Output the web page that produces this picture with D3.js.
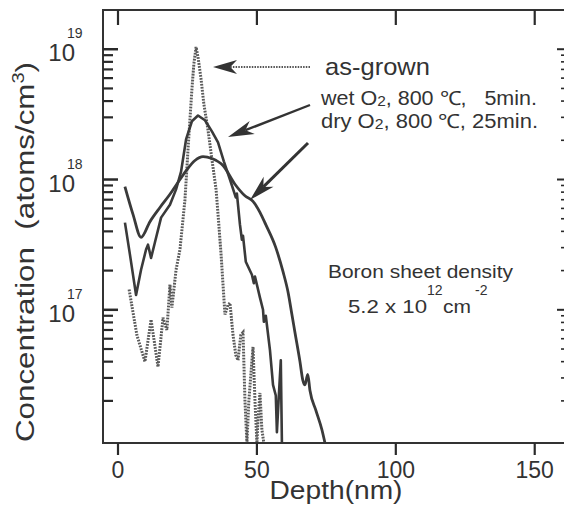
<!DOCTYPE html>
<html><head><meta charset="utf-8">
<script src="https://cdn.jsdelivr.net/npm/d3@7"></script>
<style>
body{margin:0;background:#fff}
svg{display:block}
text{font-family:"Liberation Sans",Arial,Helvetica,sans-serif;fill:#333}
</style>
</head><body>
<svg id="c" width="564" height="509"></svg>
<script>
// ---------- data (depth in nm, concentration in atoms/cm^3) ----------
const asGrownDepth = [4.0, 6.8, 9.7, 11.9, 14.4, 16.2, 17.6, 18.7, 19.4, 20.9, 22.3, 24.1, 25.2, 25.9, 26.6, 27.3, 28.1, 28.8, 29.9, 30.9, 32.4, 33.8, 35.3, 36.3, 37.1, 37.8, 38.5, 39.6, 40.3, 41.4, 42.4, 43.2, 44.2, 45.0, 45.7, 46.4, 47.1, 48.6, 49.3, 50.0, 50.4, 51.1, 51.8, 52.5];
const asGrownConc = [1.43e17, 6.4e16, 4.0e16, 8.4e16, 3.65e16, 8.7e16, 7.0e16, 1.56e17, 1.04e17, 2.03e17, 2.9e17, 7.0e17, 1.7e18, 2.9e18, 4.9e18, 7.7e18, 1.04e19, 8.7e18, 5.9e18, 3.8e18, 2.4e18, 1.43e18, 8.4e17, 4.5e17, 2.65e17, 1.56e17, 9.2e16, 1.09e17, 1.13e17, 6.4e16, 4.5e16, 4.1e16, 6.4e16, 6.7e16, 2.0e16, 9.5e15, 2.0e16, 5.2e16, 2.0e16, 9.5e15, 1.43e16, 2.3e16, 1.2e16, 9.5e15];

const wetDepth = [2.5, 4.3, 6.5, 8.3, 10.1, 10.8, 11.9, 13.3, 15.5, 18.7, 20.9, 22.7, 24.5, 26.6, 28.8, 31.3, 33.8, 36.0, 38.1, 40.3, 42.4, 42.8, 43.9, 44.6, 45.0, 46.0, 48.2, 48.9, 49.3, 51.1, 52.2, 52.5, 53.2, 54.7, 55.8, 56.8, 57.2, 57.9, 58.6, 59.0];
const wetConc = [4.67e17, 2.65e17, 1.3e17, 2.03e17, 2.9e17, 3.16e17, 2.5e17, 3.3e17, 5.1e17, 6.4e17, 8.4e17, 1.15e18, 2.03e18, 2.8e18, 3.1e18, 2.85e18, 2.34e18, 1.93e18, 1.38e18, 1.0e18, 7.3e17, 7.8e17, 4.5e17, 3.45e17, 3.7e17, 2.34e17, 1.86e17, 1.6e17, 1.8e17, 1.24e17, 1.0e17, 8.1e16, 9.0e16, 4.9e16, 2.65e16, 2.2e16, 1.15e16, 2.2e16, 4.1e16, 9.5e15];

const dryDepth = [2.5, 5.4, 8.3, 11.5, 15.1, 18.7, 22.3, 24.8, 27.7, 30.6, 33.8, 37.8, 42.1, 45.7, 48.6, 51.1, 53.2, 56.8, 59.4, 61.2, 62.6, 63.7, 65.5, 66.5, 67.3, 68.3, 69.1, 71.2, 73.4, 74.5];
const dryConc = [8.8e17, 5.4e17, 3.6e17, 4.75e17, 6.1e17, 7.7e17, 1.0e18, 1.19e18, 1.4e18, 1.5e18, 1.45e18, 1.28e18, 9.2e17, 7.5e17, 6.8e17, 5.6e17, 4.5e17, 3.0e17, 1.96e17, 1.37e17, 9.2e16, 6.7e16, 4.0e16, 2.9e16, 2.65e16, 3.2e16, 2.4e16, 1.7e16, 1.2e16, 9.5e15];

const xTickValues = [0, 50, 100, 150];
const yMajorTicks = [1e17, 1e18, 1e19];
const yMajorExponents = ["17", "18", "19"];
const seriesLabels = ["as-grown", "wet O", "dry O"];

// ---------- layout ----------
const plot = {left: 103, right: 565, top: 10, bottom: 443};
const ink = "#333";
const x = d3.scaleLinear().domain([-5.4, 160.9]).range([plot.left, plot.right]);
const y = d3.scaleLog().domain([9.5e15, 2e19]).range([plot.bottom, plot.top]);

const svg = d3.select("#c");
svg.append("rect").attr("width", 564).attr("height", 509).attr("fill", "#fff");

const minors = [];
for (let n = 16; n <= 18; n++) for (let k = 2; k <= 9; k++) {
  const v = k * Math.pow(10, n);
  if (v > y.domain()[0] && v < y.domain()[1]) minors.push(v);
}

// ---------- curves ----------
svg.append("clipPath").attr("id", "plotclip").append("rect")
  .attr("x", plot.left).attr("y", plot.top)
  .attr("width", plot.right - plot.left).attr("height", plot.bottom - plot.top);
const lineGen = d3.line().x(d => x(d[0])).y(d => y(Math.max(d[1], y.domain()[0])));
const smoothGen = d3.line().curve(d3.curveMonotoneX)
  .x(d => x(d[0])).y(d => y(Math.max(d[1], y.domain()[0])));
const curves = svg.append("g").attr("clip-path", "url(#plotclip)");
curves.append("path").datum(asGrownDepth.map((d, i) => [d, asGrownConc[i]]))
  .attr("d", lineGen).attr("fill", "none").attr("stroke", "#5a5a5a")
  .attr("stroke-width", 3).attr("stroke-dasharray", "1.8 1.2");
curves.append("path").datum(wetDepth.map((d, i) => [d, wetConc[i]]))
  .attr("d", lineGen).attr("fill", "none").attr("stroke", "#3a3a3a")
  .attr("stroke-width", 2.6).attr("stroke-linejoin", "round");
curves.append("path").datum(dryDepth.map((d, i) => [d, dryConc[i]]))
  .attr("d", smoothGen).attr("fill", "none").attr("stroke", "#3a3a3a")
  .attr("stroke-width", 2.8).attr("stroke-linejoin", "round");

// ---------- labels ----------
svg.selectAll(null).data(xTickValues).join("text")
  .attr("x", d => x(d)).attr("y", 478).attr("text-anchor", "middle")
  .attr("font-size", 23).text(d => d);

yMajorTicks.forEach((v, i) => {
  svg.append("text").attr("x", 75).attr("y", y(v) + 12).attr("text-anchor", "end")
    .attr("font-size", 24).text("10");
  svg.append("text").attr("x", 67).attr("y", y(v) - 11).attr("text-anchor", "start")
    .attr("font-size", 14).text(yMajorExponents[i]);
});

svg.append("text").attr("x", 336).attr("y", 499).attr("text-anchor", "middle")
  .attr("font-size", 25).attr("textLength", 133).attr("lengthAdjust", "spacingAndGlyphs")
  .text("Depth(nm)");
const yt = svg.append("text").attr("transform", "translate(34,252) rotate(-90)")
  .attr("text-anchor", "middle").attr("font-size", 25)
  .attr("textLength", 380).attr("lengthAdjust", "spacingAndGlyphs")
  .style("white-space", "pre");
yt.append("tspan").text("Concentration  (atoms/cm");
yt.append("tspan").attr("font-size", 16).attr("dy", -10).text("3");
yt.append("tspan").attr("dy", 10).text(")");

// ---------- annotations ----------
function arrow(x1, y1, x2, y2, len, hw, w, dash) {
  const dx = x2 - x1, dy = y2 - y1, L = Math.hypot(dx, dy);
  const ux = dx / L, uy = dy / L, px = -uy, py = ux;
  const hx = x2 - ux * len, hy = y2 - uy * len;
  const nx = x2 - ux * len * 0.72, ny = y2 - uy * len * 0.72;
  const l = svg.append("line").attr("x1", x1).attr("y1", y1).attr("x2", nx).attr("y2", ny)
    .attr("stroke", ink).attr("stroke-width", w);
  if (dash) l.attr("stroke-dasharray", dash).attr("stroke", "#555");
  svg.append("path")
    .attr("d", `M${x2},${y2}L${hx + px * hw},${hy + py * hw}L${nx},${ny}L${hx - px * hw},${hy - py * hw}Z`)
    .attr("fill", ink);
}
arrow(310, 67, 213, 67, 24, 7, 2.2, "1.5 1.2");
arrow(310, 105, 228, 137, 26, 7, 2.4);
arrow(308, 143, 250, 200, 26, 7, 3);

svg.append("text").attr("x", 325).attr("y", 75).attr("font-size", 24)
  .attr("textLength", 105).attr("lengthAdjust", "spacingAndGlyphs").text(seriesLabels[0]);

function condLabel(ty, gas, rest, len) {
  const t = svg.append("text").attr("x", 321).attr("y", ty).attr("font-size", 19.5)
    .attr("textLength", len).attr("lengthAdjust", "spacingAndGlyphs").style("white-space", "pre");
  t.append("tspan").text(gas);
  t.append("tspan").attr("font-size", 14).attr("dy", 1).text("2");
  t.append("tspan").attr("dy", -1).text(rest);
}
condLabel(105, seriesLabels[1], ", 800 ℃,   5min.", 216);
condLabel(128, seriesLabels[2], ", 800 ℃, 25min.", 217);

svg.append("text").attr("x", 328).attr("y", 278).attr("font-size", 19)
  .attr("textLength", 185).attr("lengthAdjust", "spacingAndGlyphs").text("Boron sheet density");
svg.append("text").attr("x", 348).attr("y", 313).attr("font-size", 19)
  .attr("textLength", 79).attr("lengthAdjust", "spacingAndGlyphs").text("5.2 x 10");
svg.append("text").attr("x", 427).attr("y", 295).attr("font-size", 14).text("12");
svg.append("text").attr("x", 443).attr("y", 313).attr("font-size", 19)
  .attr("textLength", 28).attr("lengthAdjust", "spacingAndGlyphs").text("cm");
svg.append("text").attr("x", 475).attr("y", 295).attr("font-size", 14).text("-2");

// ---------- frame & ticks (drawn last) ----------
svg.append("rect").attr("x", plot.left).attr("y", plot.top)
  .attr("width", plot.right - plot.left).attr("height", plot.bottom - plot.top)
  .attr("fill", "none").attr("stroke", ink).attr("stroke-width", 2);
const tg = svg.append("g");
function yTicks(vals, x0, len, w) {
  tg.selectAll(null).data(vals).join("line")
    .attr("x1", x0).attr("x2", x0 + len)
    .attr("y1", d => y(d)).attr("y2", d => y(d))
    .attr("stroke-width", w).attr("stroke", "#2a2a2a");
}
yTicks(yMajorTicks, plot.left, 15, 2.5);
yTicks(minors, plot.left, 10, 2.2);
yTicks(yMajorTicks, plot.right, -8, 2);
yTicks(minors, plot.right, -4, 1.6);
function xTicks(y0, len) {
  tg.selectAll(null).data(xTickValues).join("line")
    .attr("x1", d => x(d)).attr("x2", d => x(d))
    .attr("y1", y0).attr("y2", y0 + len)
    .attr("stroke-width", 2.2).attr("stroke", "#2a2a2a");
}
xTicks(plot.top, 15);
xTicks(plot.bottom, 12);
</script>
</body></html>
